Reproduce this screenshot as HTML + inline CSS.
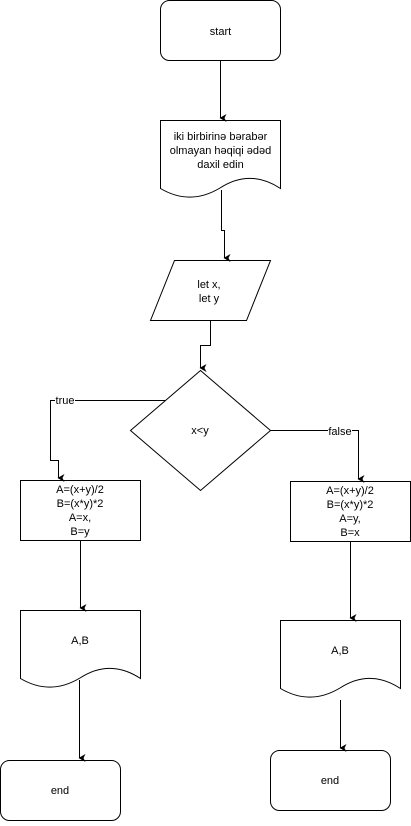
<!DOCTYPE html>
<html><head><meta charset="utf-8"><style>
html,body{margin:0;padding:0;background:#fff;}
svg text{font-family:"Liberation Sans",Arial,sans-serif;font-size:11px;fill:#000;}
</style></head><body>
<svg width="411" height="821" viewBox="0 0 411 821" xmlns="http://www.w3.org/2000/svg">
<defs><marker id="a" markerWidth="8" markerHeight="8" refX="4" refY="6" orient="auto" markerUnits="userSpaceOnUse"><path d="M0,0 L4,7 L8,0 L4,2 Z" fill="#000"/></marker></defs>
<g fill="#fff" stroke="#000" stroke-width="1">
<rect x="160.5" y="0.5" width="120" height="60" rx="9"/>
<path d="M160.5,120.5 H280.5 V188.5 C260,175 240,175 220,188 C200,200 180,200 160.5,188.5 Z"/>
<path d="M174.5,260.5 H270.5 L246.5,320.5 H150.5 Z"/>
<path d="M200.5,370.5 L270.5,430.5 L200.5,490.5 L130.5,430.5 Z"/>
<rect x="20.5" y="480.5" width="120" height="60"/>
<rect x="290.5" y="481.5" width="120" height="60"/>
<path d="M20.5,610.5 H140.5 V678.5 C120,665 100,665 80,678 C60,690 40,690 20.5,678.5 Z"/>
<path d="M280.5,620.5 H400.5 V688.5 C380,675 360,675 340,688 C320,700 300,700 280.5,688.5 Z"/>
<rect x="0.5" y="760.5" width="120" height="60" rx="9"/>
<rect x="270.5" y="750.5" width="120" height="60" rx="9"/>
</g>
<g fill="none" stroke="#000" stroke-width="1">
<path d="M220.5,60 V118" marker-end="url(#a)"/>
<path d="M221.5,190 V230.5 H224.5 V258" marker-end="url(#a)"/>
<path d="M210.5,320 V345.5 H200.5 V368" marker-end="url(#a)"/>
<path d="M165,400.5 H50.5 V460.5 H58.5 V478" marker-end="url(#a)"/>
<path d="M270,430.5 H358.5 V479" marker-end="url(#a)"/>
<path d="M80.5,541 V608" marker-end="url(#a)"/>
<path d="M79.5,680 V758" marker-end="url(#a)"/>
<path d="M350.5,542 V618" marker-end="url(#a)"/>
<path d="M340.5,700 V748" marker-end="url(#a)"/>
</g>
<rect x="55" y="394" width="20" height="12" fill="#fff"/>
<rect x="328" y="424" width="24" height="12" fill="#fff"/>
<g text-anchor="middle">
<text x="220.5" y="35">start</text>
<text x="220.5" y="140">iki birbirinə bərabər</text>
<text x="220.5" y="154">olmayan həqiqi ədəd</text>
<text x="220.5" y="168">daxil edin</text>
<text x="209" y="288">let x,</text>
<text x="209" y="302">let y</text>
<text x="200" y="434">x&lt;y</text>
<text x="65" y="404">true</text>
<text x="340" y="435">false</text>
<text x="80" y="493">A=(x+y)/2</text>
<text x="80" y="507">B=(x*y)*2</text>
<text x="80" y="521">A=x,</text>
<text x="80" y="535">B=y</text>
<text x="350" y="494">A=(x+y)/2</text>
<text x="350" y="508">B=(x*y)*2</text>
<text x="350" y="522">A=y,</text>
<text x="350" y="536">B=x</text>
<text x="80" y="644">A,B</text>
<text x="340" y="654">A,B</text>
<text x="60" y="794">end</text>
<text x="330" y="784">end</text>
</g>
</svg>
</body></html>
